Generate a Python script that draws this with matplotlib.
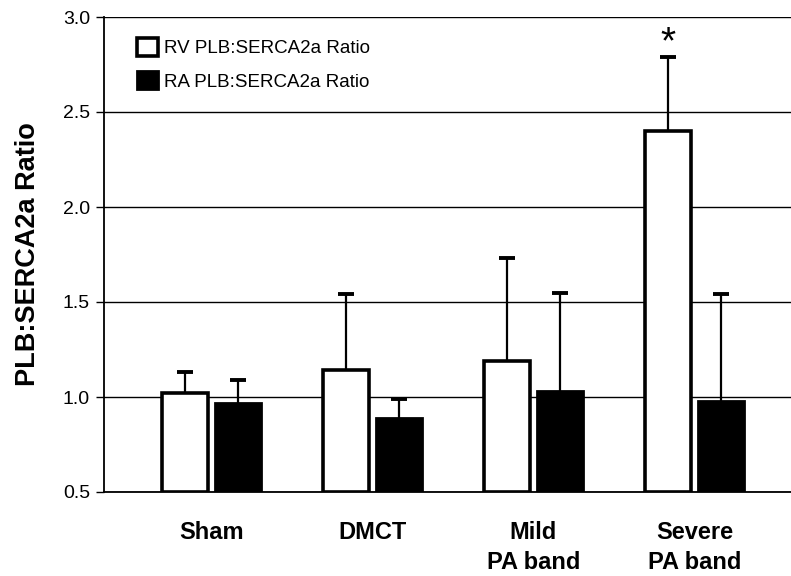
import matplotlib
matplotlib.use("Agg")
import matplotlib.pyplot as plt
import numpy as np

plt.rcParams['font.family'] = ['Liberation Sans', 'DejaVu Sans']

categories = ["Sham", "DMCT", "Mild\nPA band", "Severe\nPA band"]
rv_values = [1.02, 1.14, 1.19, 2.40]
rv_err = [0.11, 0.40, 0.54, 0.39]
ra_values = [0.97, 0.89, 1.03, 0.98]
ra_err = [0.12, 0.10, 0.52, 0.56]
series_labels = ["RV PLB:SERCA2a Ratio", "RA PLB:SERCA2a Ratio"]
yticks = [0.5, 1.0, 1.5, 2.0, 2.5, 3.0]
ytick_labels = ["0.5", "1.0", "1.5", "2.0", "2.5", "3.0"]
base = 0.5

fig = plt.figure(figsize=(7.91, 5.76), dpi=100)
ax = fig.add_axes([104/791, 1-492/576, 1-104/791, (492-17)/576])

x = np.arange(len(categories))
w = 0.286
off = 0.165
cap_color = '#2e2e5c'

rv_h = np.array(rv_values) - base
ra_h = np.array(ra_values) - base
b1 = ax.bar(x - off, rv_h, w, bottom=base, color='white', edgecolor='black',
            linewidth=2.6, label=series_labels[0], zorder=3)
b2 = ax.bar(x + off, ra_h, w, bottom=base, color='black', edgecolor='black',
            linewidth=2.0, label=series_labels[1], zorder=3)

for xs, vals, errs in [(x - off, rv_values, rv_err), (x + off, ra_values, ra_err)]:
    el = ax.errorbar(xs, vals, yerr=[np.zeros(len(errs)), errs], fmt='none',
                     ecolor='black', elinewidth=1.6, capsize=5.5, capthick=2.8,
                     zorder=2)
    caps = el[1]
    caps[0].set_visible(False)
    caps[1].set_color(cap_color)
    caps[1].set_zorder(4)

# significance marker
ax.annotate('*', xy=(x[3] - off, rv_values[3] + rv_err[3]), xytext=(0, -3),
            textcoords='offset points', ha='center', va='bottom',
            fontsize=28, color='black')

ax.set_ylim(0.5, 3.0)
ax.set_xlim(-0.668, 3.6)
ax.set_yticks(yticks)
ax.set_yticklabels(ytick_labels, fontsize=14, color='black')
ax.set_xticks(x)
ax.set_xticklabels(categories, fontsize=17, fontweight='bold', linespacing=1.4)
ax.tick_params(axis='x', length=0, pad=21)
ax.tick_params(axis='y', length=6, width=1.0, pad=4, direction='out')
ax.yaxis.grid(True, color='black', linewidth=1.0)
ax.set_axisbelow(True)
for s in ['top', 'right']:
    ax.spines[s].set_visible(False)
ax.spines['left'].set_linewidth(1.3)
ax.spines['bottom'].set_linewidth(1.3)
ax.set_ylabel("PLB:SERCA2a Ratio", fontsize=19.5, fontweight='bold', labelpad=16)

leg = ax.legend(loc='upper left', bbox_to_anchor=((137-104)/687, 1-(38-17)/475),
                frameon=False, fontsize=13.5, handlelength=1.1, handleheight=1.1,
                handletextpad=0.35, labelspacing=0.75, borderpad=0, borderaxespad=0)

fig.savefig("out.png", dpi=100)
